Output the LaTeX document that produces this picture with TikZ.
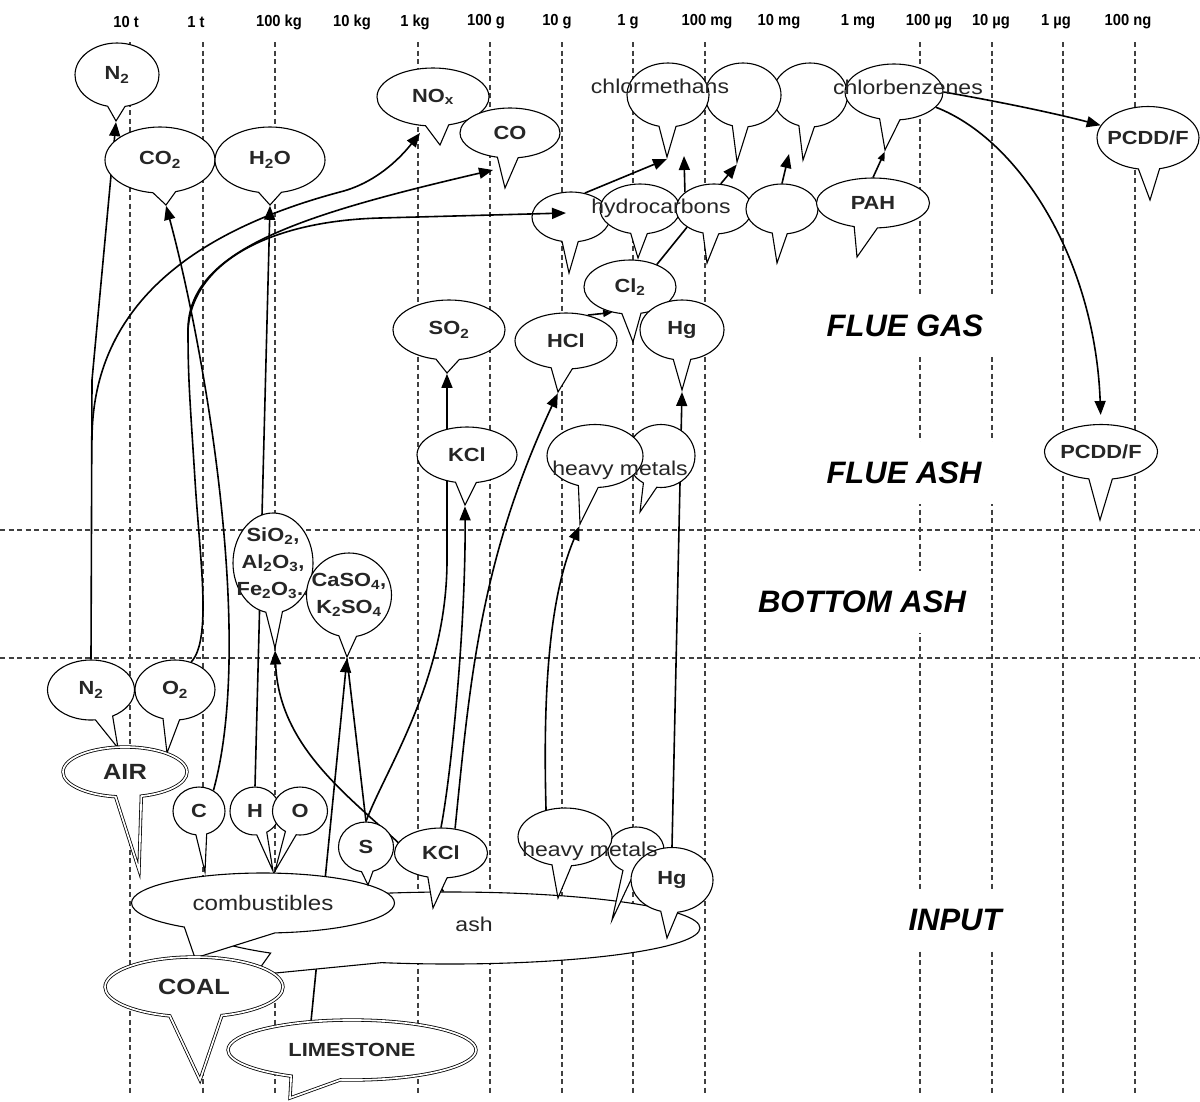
\documentclass[tikz,border=0pt]{standalone}
\usepackage{fontspec}
\setmainfont{Liberation Sans}
\newfontfamily\lab[FakeStretch=1.15]{Liberation Sans}
\newfontfamily\scl[FakeStretch=0.92]{Liberation Sans}
\usetikzlibrary{shapes.callouts,arrows.meta}
\pgfdeclarelayer{gridl}
\pgfdeclarelayer{back}
\pgfsetlayers{gridl,back,main}
\tikzset{
  gridline/.style={dash pattern=on 5pt off 3.5pt, line width=1.1pt, black!75},
  bub/.style={ellipse callout, draw, fill=white, line width=1.1pt, inner sep=0pt, callout pointer arc=24},
  dbl/.style={double, double distance=1.7pt, line width=0.8pt},
  lf/.style={font=\lab\bfseries\fontsize{19pt}{27pt}\selectfont, align=center, inner sep=0pt, text=black!85},
  lw/.style={font=\lab\fontsize{20pt}{24pt}\selectfont, inner sep=0pt, text=black!85},
  con/.style={line width=1.6pt},
  arr/.style={con, -{Triangle[length=14pt,width=11pt]}},
  sarr/.style={con, -{Triangle[length=9pt,width=7pt]}},
  zone/.style={font=\bfseries\itshape\fontsize{31pt}{31pt}\selectfont, fill=white, inner xsep=22pt, inner ysep=20pt},
  scalelab/.style={font=\scl\bfseries\fontsize{16pt}{16pt}\selectfont, inner sep=1pt}
}
\newcommand\Bub[7][]{%
  \node[bub,minimum width=#4,minimum height=#5,callout absolute pointer={#6},#1] (#2) at (#3) {};
  \node[lf] (#2-t) at (#2.center) {#7};}
\begin{document}
\begin{tikzpicture}[x=1pt,y=-1pt]
\useasboundingbox (0,0) rectangle (1200,1101);
\begin{pgfonlayer}{gridl}
\fill[white] (0,0) rectangle (1200,1101);
\foreach \gx in {130,203,275,418,490,562,633,705,920,992,1063,1135}
  \draw[gridline] (\gx,42) -- (\gx,1095);
\draw[gridline] (0,530) -- (1200,530);
\draw[gridline] (0,658) -- (1200,658);
\end{pgfonlayer}

% scale
\foreach \lx/\lt [count=\i] in {126/10 t,196/1 t,279/100 kg,352/10 kg,415/1 kg,486/100 g,557/10 g,628/1 g,707/100 mg,779/10 mg,858/1 mg,929/100 µg,991/10 µg,1056/1 µg,1128/100 ng}
  \node[scalelab] (sc\i) at (\lx,22) {\lt};

% zones
\node[zone] (fg) at (905,326) {FLUE GAS};
\node[zone] (fa) at (904,473) {FLUE ASH};
\node[zone] (ba) at (862,602) {BOTTOM ASH};
\node[zone] (inp) at (955,920) {INPUT};

% flue gas
\Bub{n2t}{117,75}{84}{64}{(116,121)}{N\textsubscript{2}}
\Bub{co2}{160,160}{110}{66}{(166,205)}{CO\textsubscript{2}}
\Bub{h2o}{270,160}{110}{66}{(270,205)}{H\textsubscript{2}O}
\Bub{nox}{433,97}{112}{58}{(440,145)}{NO\textsubscript{x}}
\Bub{co}{510,133}{100}{50}{(505,188)}{CO}
\Bub{cm3}{810,95}{75}{64}{(803,160)}{}
\Bub{cm2}{743,95}{76}{64}{(737,162)}{}
\Bub{cm1}{668,95}{82}{64}{(667,157)}{}
\Bub{cb}{894,92}{98}{56}{(885,150)}{}
\Bub{pcddt}{1148,138}{102}{63}{(1150,200)}{PCDD/F}
\Bub{hcA}{571,217}{78}{50}{(569,273)}{}
\Bub{hcB}{640,209}{80}{50}{(638,258)}{}
\Bub{hcC}{714,209}{76}{50}{(707,263)}{}
\Bub{hcD}{782,209}{72}{50}{(777,263)}{}
\Bub{pah}{873,203}{113}{50}{(857,257)}{PAH}
\Bub{cl2}{630,287}{92}{54}{(633,342)}{Cl\textsubscript{2}}
\Bub{so2}{449,330}{112}{60}{(447,373)}{SO\textsubscript{2}}
\Bub{hcl}{566,341}{102}{56}{(558,392)}{HCl}
\Bub{hgf}{682,330}{84}{60}{(682,390)}{Hg}
% flue ash
\Bub{kclf}{467,455}{100}{56}{(465,505)}{KCl}
\Bub{hmf2}{661,456}{68}{63}{(640,512)}{}
\Bub{hmf1}{595,456}{96}{63}{(580,524)}{}
\Bub{pcddf}{1101,452}{113}{55}{(1100,520)}{PCDD/F}
% bottom ash
\Bub{sio2}{273,563}{80}{100}{(275,648)}{SiO\textsubscript{2},\\Al\textsubscript{2}O\textsubscript{3},\\Fe\textsubscript{2}O\textsubscript{3}..}
\Bub{caso4}{349,595}{85}{84}{(347,657)}{CaSO\textsubscript{4},\\K\textsubscript{2}SO\textsubscript{4}}
% input
\Bub{n2b}{91,690}{87}{60}{(118,748)}{N\textsubscript{2}}
\Bub{o2}{175,690}{80}{60}{(167,753)}{O\textsubscript{2}}
\Bub[dbl]{air}{125,772}{124}{50}{(139,870)}{\fontsize{22pt}{22pt}\selectfont AIR}
\Bub{c}{199,811}{52}{48}{(205,872)}{C}
\Bub{h}{255,811}{50}{48}{(273,871)}{H}
\Bub{o}{300,811}{55}{48}{(275,871)}{O}
\node[bub, minimum width=500, minimum height=72, callout pointer arc=30, callout absolute pointer={(255,975)}] (ash) at (450,928) {};
\node[lw] (ash-t) at (474,924) {ash};
\Bub[callout pointer arc=42]{comb}{263,903}{263}{60}{(195,958)}{\mdseries\fontsize{21pt}{21pt}\selectfont combustibles}
\Bub[dbl,callout pointer arc=34]{coal}{194,987}{178}{60}{(200,1080)}{\fontsize{22pt}{22pt}\selectfont COAL}
\Bub[dbl]{lime}{352,1050}{248}{60}{(290,1098)}{LIMESTONE}
\Bub{s}{366,847}{55}{50}{(368,885)}{S}
\Bub{kcli}{441,853}{93}{50}{(433,908)}{KCl}
\Bub{hmi2}{636,850}{56}{46}{(612,920)}{}
\Bub{hmi1}{565,837}{94}{58}{(558,898)}{}
\Bub{hgi}{672,880}{82}{65}{(667,938)}{Hg}

% free ends
\coordinate (j1) at (92,440);
\coordinate (j2) at (188,330);
\coordinate (noxIn) at (420,133);
\coordinate (coIn) at (493,170);
\coordinate (hcIn) at (566,213);
\coordinate (up1) at (684,156);
\coordinate (up3) at (789,154);

\begin{pgfonlayer}{back}
\draw[arr] (n2b.north) -- (92,380) -- (n2t.pointer);
\draw[arr] (j1) .. controls (92,330) and (160,240) .. (340,192) .. controls (380,182) and (405,152) .. (noxIn);
\draw[con] (o2.60) .. controls (212,640) and (200,560) .. (195,480) .. controls (190,400) and (188,380) .. (j2);
\draw[arr] (j2) .. controls (188,250) and (300,215) .. (coIn);
\draw[arr] (c.55) .. controls (255,640) and (205,350) .. (co2.pointer);
\draw[arr] (h.north) -- (h2o.pointer);
\draw[arr] (ash.100) .. controls (392,820) and (280,770) .. (sio2.pointer);
\draw[con] (s.north) -- (caso4.pointer);
\draw[arr] (lime.145) -- (caso4.pointer);
\draw[arr] (s.north) .. controls (385,770) and (447,680) .. (447,560) -- (so2.pointer);
\draw[arr] (kcli.north) .. controls (452,770) and (466,620) .. (kclf.pointer);
\draw[arr] (kcli.60) .. controls (470,680) and (480,560) .. (hcl.pointer);
\draw[arr] (hmi1.125) .. controls (543,700) and (548,600) .. (hmf1.pointer);
\draw[arr] (hgi.north) -- (hgf.pointer);
\draw[sarr] (hcl.50) -- (cl2.235);
\draw[con] (cl2.40) -- (hcC.214);
\draw[arr] (hcA.60) -- (cm1.pointer);
\draw[arr] (hcC.150) -- (up1);
\draw[arr] (hcC.75) -- (cm2.pointer);
\draw[arr] (hcD.north) -- (up3);
\draw[sarr] (pah.north) -- (cb.pointer);
\draw[arr] (cb.east) .. controls (990,100) and (1050,112) .. (pcddt.165);
\draw[arr, shorten >=9pt] (cb.340) .. controls (1020,140) and (1095,260) .. (pcddf.north);
\end{pgfonlayer}

\draw[arr] (j2) .. controls (192,262) and (270,221) .. (380,218) -- (hcIn);

% overlay texts
\node[lw] (tcm) at (660,86) {chlormethans};
\node[lw] (tcb) at (908,87) {chlorbenzenes};
\node[lw] (thc) at (661,208) {hydrocarbons};
\node[lw] (thmf) at (620,470) {heavy metals};
\node[lw] (thmi) at (590,851) {heavy metals};
\end{tikzpicture}
\end{document}
